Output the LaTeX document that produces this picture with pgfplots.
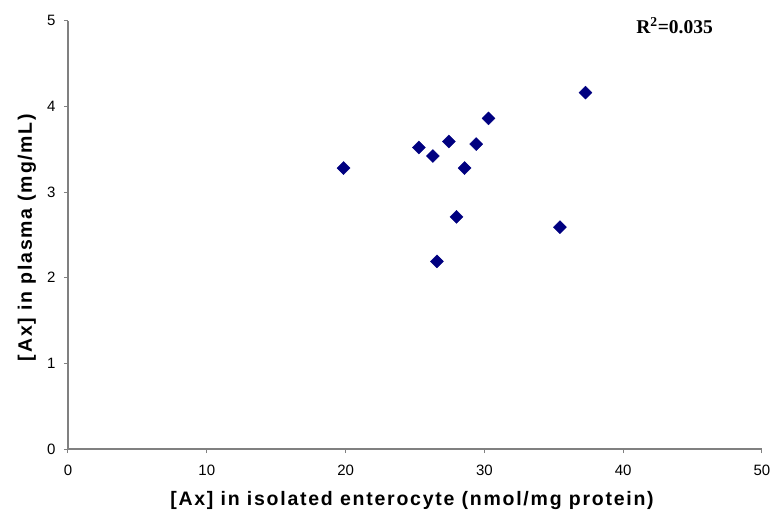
\documentclass[border=0pt]{standalone}
\usepackage{pgfplots}
\pgfplotsset{compat=1.18}
\usepackage{fontspec}
\setmainfont{Liberation Sans}
\newfontfamily\serifb{Liberation Serif}
\newfontfamily\labfont[LetterSpace=9]{Liberation Sans}
\definecolor{navy}{HTML}{000080}
\definecolor{axgray}{HTML}{808080}
\begin{document}
\begin{tikzpicture}
\path[use as bounding box] (-68pt,-66pt) rectangle (706pt,449pt);
\begin{axis}[
  scale only axis, width=694pt, height=428.3pt,
  xmin=0, xmax=50, ymin=0, ymax=5,
  xtick={0,10,...,50}, ytick={0,1,...,5},
  axis x line*=bottom, axis y line*=left,
  axis line style={axgray, line width=1.3pt, -},
  tick style={axgray, line width=1pt},
  tick align=outside, major tick length=4pt,
  /pgf/number format/assume math mode=true,
  ticklabel style={font=\fontsize{15}{17}\selectfont},
  xticklabel style={yshift=-8pt},
  yticklabel style={xshift=-5pt},
  xlabel={\labfont\bfseries [Ax] in isolated enterocyte (nmol/mg protein)},
  ylabel={\labfont\bfseries [Ax] in plasma (mg/mL)},
  label style={font=\fontsize{19.5}{22}\selectfont},
  xlabel style={at={(axis description cs:0.4957,-0.1214)}, anchor=center},
  ylabel style={at={(axis description cs:-0.0591,0.494)}, anchor=center},
  clip=false,
]
\addplot[only marks, mark=square*, mark size=4.6pt, mark options={rotate=45, fill=navy, draw=navy}]
  coordinates {
  (19.85,3.28) (25.28,3.52) (26.29,3.42) (27.44,3.59) (29.41,3.56)
  (30.30,3.86) (28.57,3.28) (27.99,2.71) (26.58,2.19) (35.44,2.59)
  (37.28,4.16)
  };
\node[font=\serifb\bfseries\fontsize{19.5}{22}\selectfont, anchor=center] at (axis cs:43.7,4.94) {R\textsuperscript{2}=0.035};
\end{axis}
\end{tikzpicture}
\end{document}
